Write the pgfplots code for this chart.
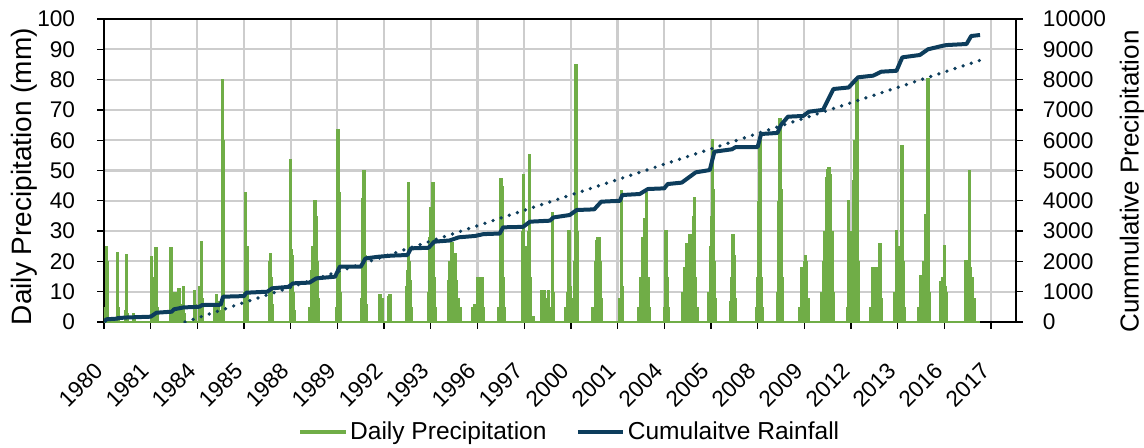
\documentclass[border=0pt]{standalone}
\usepackage{pgfplots}
\pgfplotsset{compat=1.18}
\usepackage{fontspec}
\setmainfont{Liberation Sans}
\definecolor{dgreen}{HTML}{70AD47}
\definecolor{navy}{HTML}{0D3D5C}
\definecolor{gridgray}{RGB}{205,205,205}

\pgfplotstableread{
x y
1980.03 5
1980.10 25.2
1980.13 20
1980.16 8
1980.57 23.2
1980.60 5
1980.93 4
1980.97 22.3
1981.00 3
1981.26 3
1981.30 2
1982.04 21.8
1982.10 10
1982.17 15
1982.23 24.6
1982.27 5
1982.87 24.6
1982.92 8
1983.05 10
1983.10 4
1983.22 11.2
1983.30 6
1983.40 12
1983.45 3
1983.87 10.5
1983.92 6
1984.12 12
1984.18 26.7
1984.22 8
1984.75 5
1984.83 9.2
1984.88 7
1985.00 4
1985.07 80.2
1985.10 60
1985.13 10
1986.02 10
1986.07 43
1986.12 25
1986.15 8
1987.10 20
1987.14 22.7
1987.18 15
1987.22 6
1987.98 20
1988.00 53.7
1988.04 24
1988.08 22
1988.12 10
1988.15 4
1988.80 5
1988.88 17
1988.95 25
1989.00 18
1989.04 40.3
1989.08 35
1989.12 20
1989.17 8
1989.95 5
1990.02 63.6
1990.06 43
1990.10 26
1990.14 10
1991.05 8
1991.10 41
1991.14 50.2
1991.18 22
1991.22 6
1991.80 9.3
1991.85 9.3
1991.90 8
1992.20 8.5
1992.25 9.3
1992.95 12
1993.00 17
1993.04 46.3
1993.08 20
1993.12 14
1993.18 5
1993.90 10
1993.95 28
1994.00 38
1994.05 30
1994.10 46.3
1994.14 15
1994.20 5
1994.75 14
1994.82 20
1994.90 26.3
1994.95 14
1995.05 22.7
1995.10 14
1995.18 8
1995.25 5
1995.80 5
1995.90 6
1996.00 15
1996.05 12
1996.10 15
1996.15 8
1996.20 15
1996.25 5
1996.92 5
1997.00 47.4
1997.06 45
1997.10 15
1997.15 5
1997.93 30
1997.97 48.8
1998.03 25
1998.12 20
1998.18 30
1998.22 55.3
1998.26 15
1998.40 2
1998.75 10.5
1998.85 10.5
1998.95 8
1999.05 10.5
1999.15 5
1999.22 36.2
1999.26 10
1999.80 5
1999.86 10
1999.92 30.4
1999.96 12
2000.02 8
2000.18 20
2000.22 85.1
2000.26 30
2000.95 5
2001.05 20
2001.10 27
2001.15 28
2001.20 28
2001.25 20
2001.30 8
2002.10 8
2002.18 43.5
2002.22 12
2002.90 5
2003.00 15
2003.10 28
2003.18 34.2
2003.25 43
2003.30 15
2003.35 5
2004.00 5
2004.05 20
2004.08 30.4
2004.12 15
2004.18 5
2004.80 10
2004.88 18
2004.95 26.2
2005.02 15
2005.10 29
2005.18 25
2005.25 35
2005.30 41.4
2005.35 15
2005.40 5
2005.90 10
2005.98 25
2006.02 35
2006.06 60.3
2006.10 44
2006.15 20
2006.20 8
2006.85 7
2006.90 15
2006.94 29
2006.98 22
2007.05 8
2007.95 5
2008.02 15
2008.06 40
2008.10 60
2008.13 35
2008.17 15
2008.20 5
2008.85 10
2008.92 40
2008.96 67.2
2009.00 44
2009.05 15
2009.80 5
2009.90 18.3
2009.95 8
2010.02 20
2010.06 22.1
2010.10 20
2010.15 8
2010.75 10
2010.82 20
2010.88 30
2010.95 48
2011.00 50.4
2011.06 51.2
2011.12 49
2011.20 30
2011.25 10
2011.85 5
2011.90 40.3
2011.96 15
2012.05 30
2012.12 47
2012.18 60
2012.25 80
2012.30 20
2012.85 5
2012.92 18.3
2013.00 18.3
2013.10 18
2013.25 26.2
2013.30 8
2013.88 10
2013.95 30.4
2014.02 20
2014.10 25
2014.18 58.4
2014.22 20
2014.28 5
2014.90 5
2014.97 15.4
2015.05 14
2015.12 20
2015.20 35.6
2015.30 80.4
2015.34 10
2015.85 13.4
2015.92 15
2016.00 25.4
2016.06 12
2016.10 10
2016.92 20.4
2017.00 20
2017.08 50.2
2017.13 18
2017.20 15
2017.28 8
}\daily

\pgfplotstableread{
x y
1980.00 0
1980.10 90
1980.55 110
1980.60 130
1981.00 150
1982.00 175
1982.25 307
1982.90 340
1983.00 420
1983.40 480
1984.10 505
1984.20 560
1985.00 570
1985.10 835
1986.00 855
1986.10 967
1987.00 1000
1987.20 1111
1987.90 1160
1988.10 1276
1988.80 1300
1989.10 1441
1989.90 1496
1990.10 1826
1991.00 1826
1991.20 2100
1991.80 2157
1992.30 2190
1993.00 2211
1993.15 2431
1993.90 2450
1994.15 2651
1994.80 2690
1995.20 2795
1995.90 2840
1996.25 2900
1996.95 2920
1997.10 3124
1997.95 3140
1998.25 3311
1999.10 3344
1999.25 3450
1999.95 3531
2000.25 3696
2001.00 3718
2001.30 3971
2002.10 4000
2002.20 4191
2002.95 4224
2003.30 4389
2004.00 4411
2004.15 4554
2004.75 4600
2005.35 4939
2005.95 5015
2006.15 5621
2006.90 5700
2007.05 5770
2008.00 5770
2008.15 6205
2008.85 6240
2009.00 6502
2009.30 6776
2009.95 6800
2010.20 6941
2010.80 7000
2011.25 7690
2011.90 7740
2012.30 8075
2012.95 8130
2013.30 8261
2013.95 8290
2014.20 8735
2014.95 8812
2015.30 9000
2015.95 9120
2016.10 9140
2016.95 9175
2017.15 9439
2017.53 9472
}\cumul

\begin{document}
\begin{tikzpicture}
\path[use as bounding box] (-78pt,-93.75pt) rectangle (780pt,241.5pt);
\begin{axis}[
  at={(0,0)}, anchor=south west,
  width=684pt, height=227.25pt, scale only axis,
  xmin=1980, xmax=2019.07, ymin=0, ymax=100,
  xtick={1980,1982,...,2018},
  xticklabels={1980,1981,1984,1985,1988,1989,1992,1993,1996,1997,2000,2001,2004,2005,2008,2009,2012,2013,2016,2017},
  ytick={0,10,...,100},
  xtick pos=left, ytick pos=left,
  tick align=outside, major tick length=5pt,
  tick style={black, line width=1pt},
  axis line style={black, line width=1.2pt},
  grid=major,
  major grid style={draw=gridgray, line width=1.6pt},
  tick label style={font=\fontsize{17}{19}\selectfont},
  /pgf/number format/assume math mode=true,
  xticklabel style={font=\fontsize{17}{19}\selectfont, inner sep=0pt, yshift=-29pt, xshift=-4pt, rotate=45, anchor=east},
  yticklabel style={anchor=east, inner sep=0pt, xshift=-16.5pt},
  ylabel={Daily Precipitation (mm)},
  ylabel style={at={(axis description cs:-0.0877,0.48)}, anchor=center, font=\fontsize{21}{23}\selectfont},
]
\addplot[dgreen, line width=2pt, forget plot] coordinates {(1980,0) (2017.53,0)};
\addplot[ycomb, dgreen, line width=2.6pt, mark=none] table[x=x, y=y] {\daily};
\end{axis}
\begin{axis}[
  at={(0,0)}, anchor=south west,
  width=684pt, height=227.25pt, scale only axis,
  xmin=1980, xmax=2019.07, ymin=0, ymax=10000,
  axis x line=none, axis y line*=right,
  ytick={0,1000,...,10000},
  scaled y ticks=false,
  tick align=outside, major tick length=5pt,
  tick style={black, line width=1pt},
  axis line style={-, black, line width=1.2pt},
  tick label style={font=\fontsize{17}{19}\selectfont},
  /pgf/number format/assume math mode=true,
  /pgf/number format/1000 sep={},
  yticklabel style={anchor=west, inner sep=0pt, xshift=15pt},
  ylabel={Cummulative Precipitation},
  ylabel style={at={(axis description cs:1.127,0.464)}, anchor=center, font=\fontsize{19.5}{21}\selectfont},
  legend style={at={(axis description cs:0.511,-0.363)}, anchor=center, draw=none, fill=none,
    legend columns=2, font=\fontsize{18.4}{20}\selectfont,
    /tikz/every even column/.append style={column sep=20pt}},
  legend image code/.code={\draw[#1] (0pt,0pt) -- (34pt,0pt);},
]
\addlegendimage{dgreen, line width=3pt}
\addlegendentry{Daily Precipitation}
\addplot[navy, line width=3pt, line join=round] table[x=x, y=y] {\cumul};
\addlegendentry{Cumulaitve Rainfall}
\addplot[navy, line width=2.8pt, line cap=round, dash pattern=on 0pt off 6.4pt, forget plot] coordinates {(1983.47,0) (2017.5,8630)};
\end{axis}
\end{tikzpicture}
\end{document}
